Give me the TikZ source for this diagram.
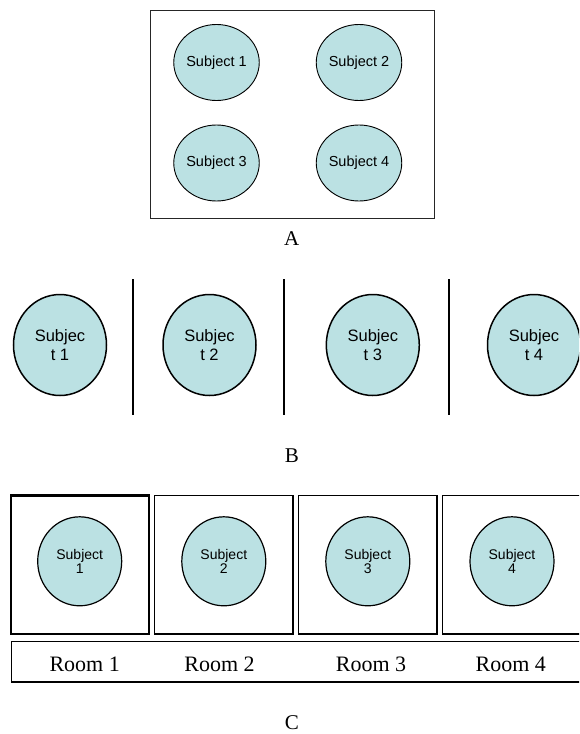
\documentclass[tikz,border=0pt]{standalone}
\usepackage{fontspec}
\setmainfont{Liberation Serif}
\setsansfont{Liberation Sans}
\usetikzlibrary{shapes.geometric}
\definecolor{subjfill}{RGB}{187,225,227}
\tikzset{
  subjA/.style={ellipse, draw=black, line width=0.9pt, fill=subjfill, minimum width=80pt, minimum height=76pt, inner sep=0pt, font=\sffamily\fontsize{14.5}{16}\selectfont},
  subjB/.style={ellipse, draw=black, line width=1.5pt, fill=subjfill, minimum width=93pt, minimum height=101pt, inner sep=0pt, align=center, font=\sffamily\fontsize{16.5}{18.5}\selectfont},
  subjC/.style={ellipse, draw=black, line width=1.2pt, fill=subjfill, minimum width=84pt, minimum height=89pt, inner sep=0pt, align=center, font=\sffamily\fontsize{14}{14}\selectfont},
  caption/.style={font=\fontsize{21}{24}\selectfont, inner sep=0pt},
  roomlbl/.style={font=\fontsize{22}{24}\selectfont, inner sep=0pt},
  room/.style={draw=black, line width=1.8pt},
  wall/.style={draw=black, line width=2pt}
}
\begin{document}
\begin{tikzpicture}[x=1pt,y=-1pt]
\useasboundingbox (0,0) rectangle (579,734);
\clip (0,0) rectangle (579,734);
\fill[white] (0,0) rectangle (579,734);
% ---- A ----
\draw[line width=0.8pt, draw=black!85] (150.5,10) rectangle (434.5,218);
\node[subjA] (a1) at (216.5,62.5) {Subject 1};
\node[subjA] (a2) at (359,62.5) {Subject 2};
\node[subjA] (a3) at (216.5,163) {Subject 3};
\node[subjA] (a4) at (359,163) {Subject 4};
\node[caption] (capA) at (291.7,239) {A};
% ---- B ----
\coordinate (w1t) at (133,279); \coordinate (w1b) at (133,415);
\coordinate (w2t) at (284,279); \coordinate (w2b) at (284,415);
\coordinate (w3t) at (449,279); \coordinate (w3b) at (449,415);
\draw[wall] (w1t) -- (w1b);
\draw[wall] (w2t) -- (w2b);
\draw[wall] (w3t) -- (w3b);
\node[subjB] (b1) at (60,345) {Subjec\\t 1};
\node[subjB] (b2) at (209.5,345) {Subjec\\t 2};
\node[subjB] (b3) at (372.8,345) {Subjec\\t 3};
\node[subjB] (b4) at (534,345) {Subjec\\t 4};
\node[caption] (capB) at (292,456) {B};
% ---- C ----
\draw[room, line width=2.3pt] (11,495.5) rectangle (149,634);
\draw[room] (154.5,495.5) rectangle (293,634);
\draw[room] (298.5,495.5) rectangle (437,634);
\draw[room] (442.5,495.5) rectangle (600,634);
\node[subjC] (c1) at (79.7,561.3) {Subject\\1};
\node[subjC] (c2) at (223.8,561.3) {Subject\\2};
\node[subjC] (c3) at (367.8,561.3) {Subject\\3};
\node[subjC] (c4) at (512,561.3) {Subject\\4};
\draw[room, line width=1.5pt] (11.5,641.5) rectangle (600,682);
\node[roomlbl] (r1) at (84.7,664) {Room 1};
\node[roomlbl] (r2) at (219.5,664) {Room 2};
\node[roomlbl] (r3) at (371,664) {Room 3};
\node[roomlbl] (r4) at (510.8,664) {Room 4};
\node[caption] (capC) at (292,723) {C};
\end{tikzpicture}
\end{document}
